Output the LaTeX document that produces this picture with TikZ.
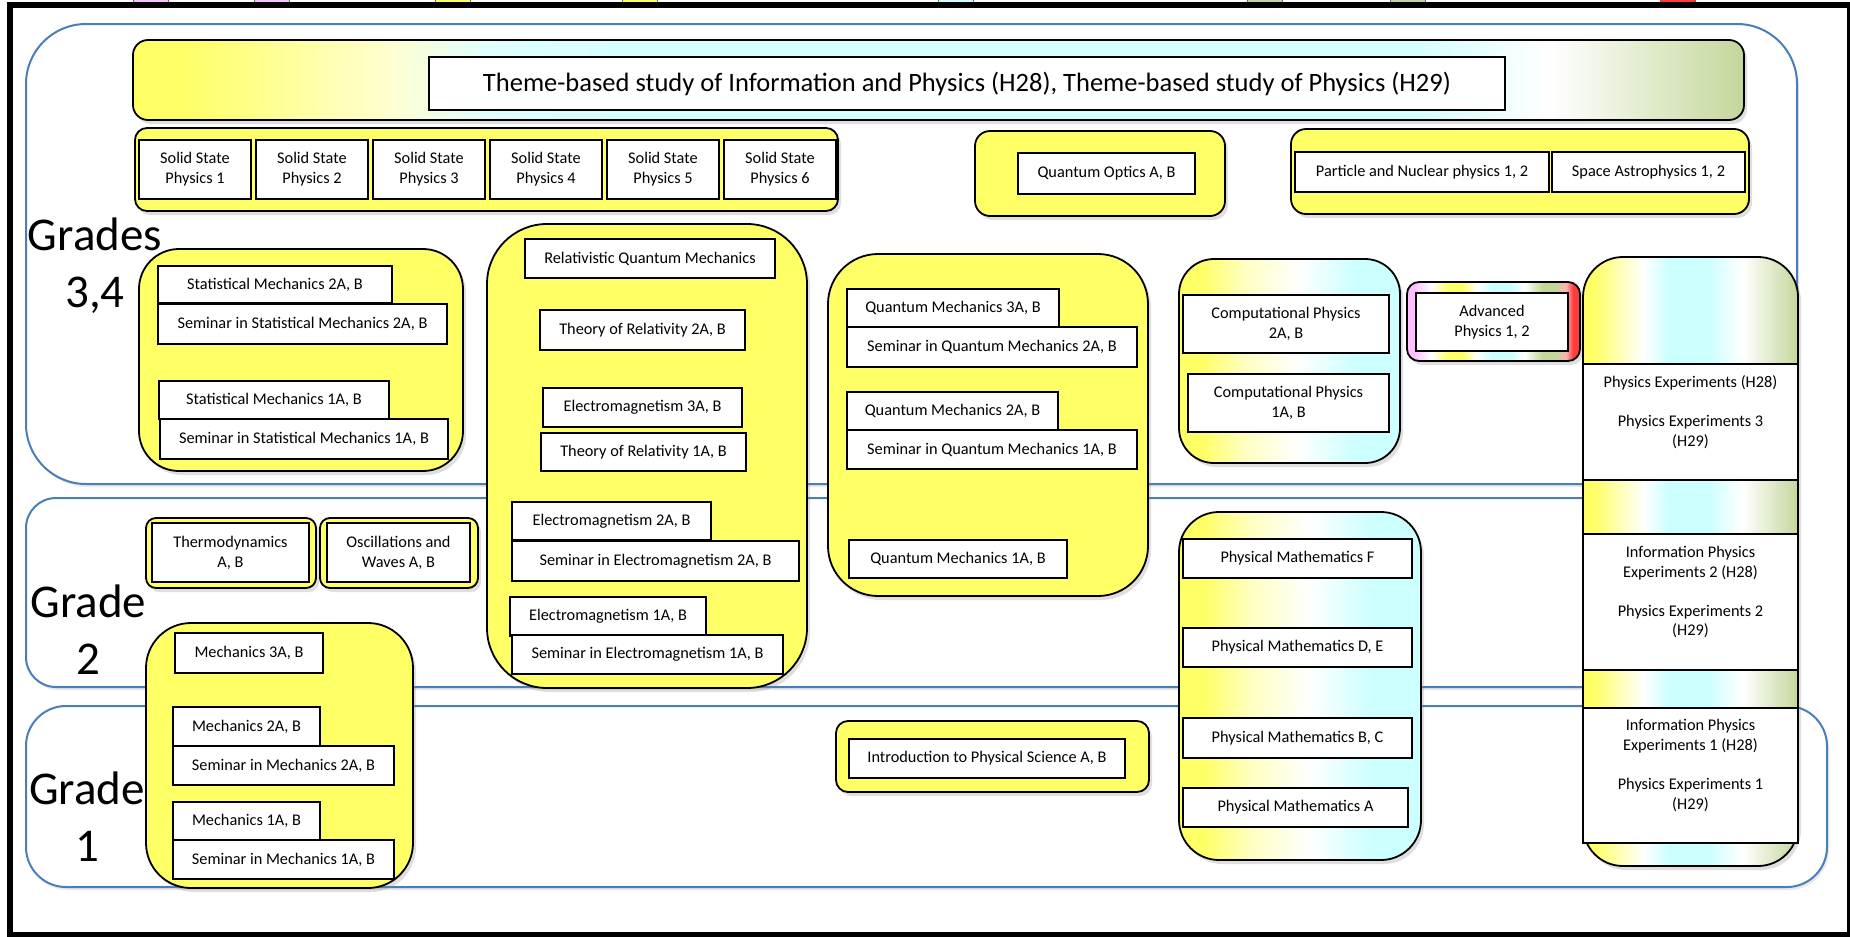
\documentclass[tikz,border=0pt]{standalone}
\usepackage{fontspec}
\setmainfont{Carlito}
\usepackage{tikz}
\usetikzlibrary{shadows}
\definecolor{boxYellow}{RGB}{255,255,102}
\definecolor{boxCyan}{RGB}{204,255,255}
\definecolor{boxOlive}{RGB}{196,215,155}
\definecolor{boxPink}{RGB}{255,190,255}
\definecolor{boxRed}{RGB}{255,60,60}
\definecolor{regionBlue}{RGB}{74,126,187}
\newcommand{\courseFont}{\fontsize{16.3}{19.8}\selectfont}
\newcommand{\titleFont}{\fontsize{26.5}{31}\selectfont}
\newcommand{\gradeFont}{\fontsize{47}{57}\selectfont}
\pgfdeclarehorizontalshading{themeShade}{100bp}{color(0bp)=(boxYellow); color(26.5bp)=(boxYellow); color(33bp)=(boxYellow!30!white); color(36bp)=(boxCyan!60!white); color(40bp)=(boxCyan!80!white); color(65bp)=(boxCyan!80!white); color(69bp)=(white); color(75bp)=(boxOlive); color(100bp)=(boxOlive)}
\pgfdeclarehorizontalshading{expShade}{100bp}{color(0bp)=(boxYellow); color(27.5bp)=(boxYellow); color(39bp)=(white); color(45bp)=(boxCyan); color(54bp)=(boxCyan); color(62bp)=(white); color(75bp)=(boxOlive); color(100bp)=(boxOlive)}
\pgfdeclarehorizontalshading{mathShade}{100bp}{color(0bp)=(boxYellow); color(30bp)=(boxYellow); color(40bp)=(boxYellow!40!white); color(52bp)=(white); color(65bp)=(boxCyan); color(100bp)=(boxCyan)}
\pgfdeclarehorizontalshading{advShade}{100bp}{color(0bp)=(boxPink); color(27bp)=(boxPink); color(32bp)=(white); color(37bp)=(boxYellow); color(41bp)=(boxYellow); color(45bp)=(white); color(50bp)=(boxCyan); color(55bp)=(boxCyan); color(59bp)=(white); color(64bp)=(boxOlive); color(68bp)=(boxOlive); color(71bp)=(white!60!boxRed); color(73bp)=(boxRed); color(100bp)=(boxRed)}
\tikzset{
    region/.style = {draw=regionBlue, line width=2pt, fill=white, rounded corners=#1,
        drop shadow={opacity=0.18, shadow xshift=2pt, shadow yshift=-3pt}},
    region/.default = 40pt,
    group/.style = {draw, line width=1.8pt, fill=#1,
        drop shadow={opacity=0.25, shadow xshift=3pt, shadow yshift=-4pt}},
    group/.default = boxYellow,
    shadedgroup/.style = {draw, line width=1.8pt, shading=#1,
        drop shadow={opacity=0.25, shadow xshift=3pt, shadow yshift=-4pt}},
    course/.style = {draw, line width=2.4pt, fill=white, font=\courseFont, align=center, inner sep=2pt},
    gradelabel/.style = {font=\gradeFont, align=center, inner sep=0pt}
}

\begin{document}
\begin{tikzpicture}[x=1pt, y=-1pt]
    \useasboundingbox (0,0) rectangle (1850,937);
    % cut-off legend bits and frame
    \foreach \x/\c in {133/boxPink, 254/boxPink, 435/boxYellow, 622/boxYellow, 938/boxCyan, 1247/boxOlive, 1390/boxOlive, 1660/boxRed}
        \filldraw[fill=\c, draw=black!60, line width=0.8pt] (\x,-2) rectangle ++(35,6);
    \draw[line width=6pt] (10,4.5) rectangle (1850,935);

    % grade regions
    \filldraw[region=60pt] (26,24) rectangle (1797,484);
    \filldraw[region=30pt] (26,498) rectangle (1797,687);
    \filldraw[region=40pt] (26,706) rectangle (1827,887);

    % theme-based study
    \shadedraw[shadedgroup=themeShade, rounded corners=15pt] (133,40) rectangle (1744,120);
    \node[course, font=\titleFont, minimum width=1076pt, minimum height=53pt] (theme) at (967,83.5)
        {Theme-based study of Information and Physics (H28), Theme-based study of Physics (H29)};

    % grades 3,4
    \filldraw[group, rounded corners=12pt] (135,128) rectangle (838,211);
    \foreach \i in {1,...,6}
        \node[course, minimum width=112pt, minimum height=59pt] (ssp\i) at ({78+117*\i},169.5) {Solid State\\Physics \i};

    \filldraw[group, rounded corners=15pt] (975,131) rectangle (1225,216);
    \node[course, minimum width=177pt, minimum height=41pt] (qo) at (1106.5,173.5) {Quantum Optics A, B};

    \filldraw[group, rounded corners=15pt] (1291,129) rectangle (1749,214);
    \node[course, minimum width=254pt, minimum height=40pt] (pn) at (1422,172) {Particle and Nuclear physics 1, 2};
    \node[course, minimum width=193pt, minimum height=40pt] (sa) at (1648.5,172) {Space Astrophysics 1, 2};

    \filldraw[group, rounded corners=40pt] (139,249) rectangle (463,471);
    \node[course, minimum width=234pt, minimum height=37pt] (stm2) at (275,284.5) {Statistical Mechanics 2A, B};
    \node[course, minimum width=289pt, minimum height=40pt] (sstm2) at (302.5,324) {Seminar in Statistical Mechanics 2A, B};
    \node[course, minimum width=230pt, minimum height=38pt] (stm1) at (274,400) {Statistical Mechanics 1A, B};
    \node[course, minimum width=288pt, minimum height=40pt] (sstm1) at (304,439) {Seminar in Statistical Mechanics 1A, B};

    \filldraw[group, rounded corners=60pt] (487,224) rectangle (807,688);
    \node[course, minimum width=250pt, minimum height=39pt] (rqm) at (650,258.5) {Relativistic Quantum Mechanics};
    \node[course, minimum width=205pt, minimum height=40pt] (tr2) at (642.5,330) {Theory of Relativity 2A, B};
    \node[course, minimum width=199pt, minimum height=39pt] (em3) at (642.5,407.5) {Electromagnetism 3A, B};
    \node[course, minimum width=205pt, minimum height=38pt] (tr1) at (643.5,452) {Theory of Relativity 1A, B};
    \node[course, minimum width=199pt, minimum height=38pt] (em2) at (611.5,521) {Electromagnetism 2A, B};
    \node[course, minimum width=287pt, minimum height=40pt] (sem2) at (655.5,561) {Seminar in Electromagnetism 2A, B};
    \node[course, minimum width=196pt, minimum height=39pt] (em1) at (608,616.5) {Electromagnetism 1A, B};
    \node[course, minimum width=271pt, minimum height=39pt] (sem1) at (647.5,654.5) {Seminar in Electromagnetism 1A, B};

    \filldraw[group, rounded corners=50pt] (828,254) rectangle (1148,596);
    \node[course, minimum width=212pt, minimum height=38pt] (qm3) at (953,308) {Quantum Mechanics 3A, B};
    \node[course, minimum width=290pt, minimum height=40pt] (sqm2) at (992,347) {Seminar in Quantum Mechanics 2A, B};
    \node[course, minimum width=211pt, minimum height=38pt] (qm2) at (952.5,411) {Quantum Mechanics 2A, B};
    \node[course, minimum width=290pt, minimum height=39pt] (sqm1) at (992,449.5) {Seminar in Quantum Mechanics 1A, B};
    \node[course, minimum width=218pt, minimum height=38pt] (qm1) at (958,559) {Quantum Mechanics 1A, B};

    \shadedraw[shadedgroup=mathShade, rounded corners=35pt] (1179,259) rectangle (1400,463);
    \node[course, minimum width=206pt, minimum height=58pt] (cp2) at (1286,324) {Computational Physics\\2A, B};
    \node[course, minimum width=201pt, minimum height=58pt] (cp1) at (1288.5,403) {Computational Physics\\1A, B};

    \shadedraw[shadedgroup=advShade, rounded corners=12pt] (1407,282) rectangle (1580,361);
    \node[course, minimum width=152pt, minimum height=58pt] (adv) at (1492,322) {Advanced\\Physics 1, 2};

    % experiments column
    \shadedraw[shadedgroup=expShade, rounded corners=40pt] (1583,257) rectangle (1798,866);
    \node[course, minimum width=215pt, minimum height=116pt] (exp3) at (1690.5,422)
        {Physics Experiments (H28)\\[19pt]Physics Experiments 3\\(H29)\\\phantom{(}};
    \node[course, minimum width=215pt, minimum height=136pt] (exp2) at (1690.5,602)
        {Information Physics\\Experiments 2 (H28)\\[19pt]Physics Experiments 2\\(H29)\\\phantom{(}};
    \node[course, minimum width=215pt, minimum height=135pt] (exp1) at (1690.5,775.5)
        {Information Physics\\Experiments 1 (H28)\\[19pt]Physics Experiments 1\\(H29)\\\phantom{(}};

    % grade 2
    \filldraw[group, rounded corners=10pt] (146,518) rectangle (316,588);
    \node[course, minimum width=157pt, minimum height=59pt] (thd) at (230.5,552.5) {Thermodynamics\\A, B};
    \filldraw[group, rounded corners=10pt] (320,518) rectangle (478,588);
    \node[course, minimum width=143pt, minimum height=59pt] (osc) at (398.5,552.5) {Oscillations and\\Waves A, B};

    \shadedraw[shadedgroup=mathShade, rounded corners=40pt] (1179,512) rectangle (1421,860);
    \node[course, minimum width=229pt, minimum height=39pt] (pmF) at (1297.5,558.5) {Physical Mathematics F};
    \node[course, minimum width=229pt, minimum height=39pt] (pmDE) at (1297.5,647.5) {Physical Mathematics D, E};
    \node[course, minimum width=229pt, minimum height=40pt] (pmBC) at (1297.5,738) {Physical Mathematics B, C};
    \node[course, minimum width=225pt, minimum height=39pt] (pmA) at (1295.5,807.5) {Physical Mathematics A};

    % grade 1
    \filldraw[group, rounded corners=45pt] (146,623) rectangle (413,888);
    \node[course, minimum width=148pt, minimum height=40pt] (mech3) at (249,653) {Mechanics 3A, B};
    \node[course, minimum width=147pt, minimum height=39pt] (mech2) at (246.5,726.5) {Mechanics 2A, B};
    \node[course, minimum width=221pt, minimum height=39pt] (smech2) at (283.5,765.5) {Seminar in Mechanics 2A, B};
    \node[course, minimum width=147pt, minimum height=38pt] (mech1) at (246.5,821) {Mechanics 1A, B};
    \node[course, minimum width=221pt, minimum height=39pt] (smech1) at (283.5,859.5) {Seminar in Mechanics 1A, B};

    \filldraw[group, rounded corners=12pt] (836,721) rectangle (1149,792);
    \node[course, minimum width=276pt, minimum height=39pt] (intro) at (987,758.5) {Introduction to Physical Science A, B};

    % grade labels
    \node[gradelabel] (g34) at (95,266) {Grades\\3,4};
    \node[gradelabel] (g2) at (88.5,630) {Grade\\2};
    \node[gradelabel] (g1) at (87,817) {Grade\\1};
\end{tikzpicture}
\end{document}
